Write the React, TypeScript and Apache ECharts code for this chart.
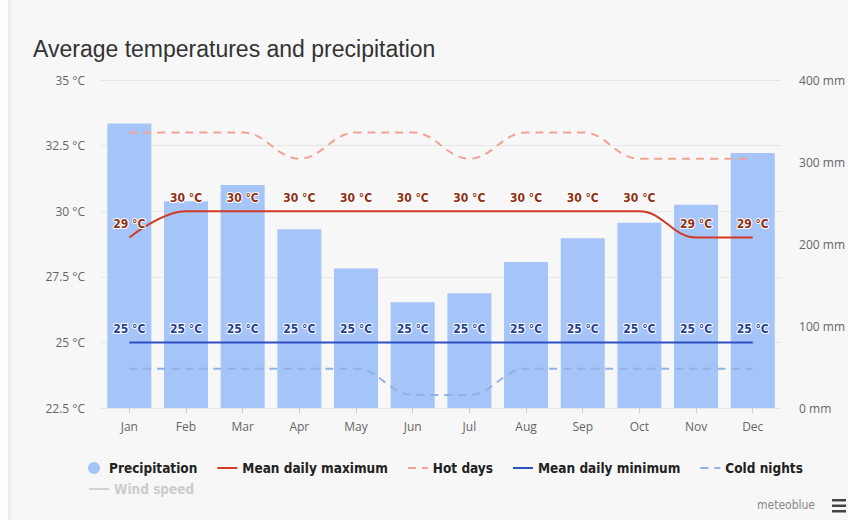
import React, { useEffect, useRef } from "react";
import * as echarts from "echarts";

const months = ["Jan", "Feb", "Mar", "Apr", "May", "Jun", "Jul", "Aug", "Sep", "Oct", "Nov", "Dec"];
const precipitation = [347, 252, 272, 218, 170, 129, 140, 178, 207, 226, 248, 311];
const meanDailyMax = [29, 30, 30, 30, 30, 30, 30, 30, 30, 30, 29, 29];
const hotDays = [33, 33, 33, 32, 33, 33, 32, 33, 33, 32, 32, 32];
const meanDailyMin = [25, 25, 25, 25, 25, 25, 25, 25, 25, 25, 25, 25];
const coldNights = [24, 24, 24, 24, 24, 23, 23, 24, 24, 24, 24, 24];
const windSpeed: number[] = [];

const COND = "'DejaVu Sans Condensed', 'DejaVu Sans', sans-serif";
const AXISFONT = "'Open Sans', sans-serif";

export default function App() {
  const ref = useRef<HTMLDivElement>(null);
  useEffect(() => {
    document.body.style.margin = "0";
    const chart = echarts.init(ref.current!, undefined, { renderer: "svg" });
    const labelMax = {
      show: true,
      position: "top",
      distance: 7,
      formatter: "{c} °C",
      color: "#8f2f12",
      fontFamily: COND,
      fontWeight: "bold",
      fontSize: 12,
      textBorderColor: "#ffffff",
      textBorderWidth: 2,
    };
    const hideDot = { itemStyle: { opacity: 0 } };
    const legendText = { fontFamily: COND, fontWeight: "bold", fontSize: 13.5, color: "#222" };
    chart.setOption({
      animation: false,
      backgroundColor: "#f7f7f7",
      title: {
        text: "Average temperatures and precipitation",
        left: 28,
        top: 32,
        textStyle: { fontFamily: "'Liberation Sans', Arial, sans-serif", fontWeight: "normal", fontSize: 23, color: "#333" },
      },
      grid: { left: 101, right: 66, top: 80, height: 328 },
      legend: [
        {
          left: 83,
          top: 456,
          itemWidth: 20,
          itemHeight: 12,
          itemGap: 19,
          textStyle: legendText,
          data: [
            { name: "Precipitation", icon: "circle" },
            { name: "Mean daily maximum", ...hideDot },
            { name: "Hot days", ...hideDot },
            { name: "Mean daily minimum", ...hideDot },
            { name: "Cold nights", ...hideDot },
          ],
        },
        {
          left: 83,
          top: 477,
          itemWidth: 20,
          itemHeight: 12,
          inactiveColor: "#cccccc",
          selected: { "Wind speed": false },
          textStyle: legendText,
          data: [{ name: "Wind speed", ...hideDot }],
        },
      ],
      xAxis: {
        type: "category",
        data: months,
        boundaryGap: true,
        axisLine: { show: false },
        axisTick: { show: true, alignWithLabel: true, length: 5, lineStyle: { color: "#cccccc" } },
        axisLabel: { color: "#666", fontSize: 12, margin: 12, fontFamily: AXISFONT },
      },
      yAxis: [
        {
          type: "value",
          min: 22.5,
          max: 35,
          interval: 2.5,
          axisLine: { show: false },
          axisTick: { show: false },
          splitLine: { show: true, lineStyle: { color: "#e6e6e6" } },
          axisLabel: { formatter: "{value} °C", color: "#666", fontSize: 12, margin: 16, fontFamily: AXISFONT },
        },
        {
          type: "value",
          min: 0,
          max: 400,
          interval: 100,
          position: "right",
          axisLine: { show: false },
          axisTick: { show: false },
          splitLine: { show: false },
          axisLabel: { formatter: "{value} mm", color: "#666", fontSize: 12, margin: 18, fontFamily: AXISFONT },
        },
      ],
      series: [
        {
          name: "Precipitation",
          type: "bar",
          yAxisIndex: 1,
          data: precipitation,
          barWidth: 44,
          itemStyle: { color: "#a5c4f8" },
          z: 1,
        },
        {
          name: "Mean daily maximum",
          type: "line",
          data: meanDailyMax,
          smooth: 0.4,
          symbol: "circle",
          symbolSize: 0,
          showSymbol: true,
          lineStyle: { color: "#d13a26", width: 2 },
          itemStyle: { color: "#d13a26" },
          label: labelMax,
          z: 5,
        },
        {
          name: "Hot days",
          type: "line",
          data: hotDays,
          smooth: 0.4,
          symbol: "none",
          lineStyle: { color: "#f2a291", width: 2, type: [8, 6] },
          itemStyle: { color: "#f2a291" },
          z: 4,
        },
        {
          name: "Mean daily minimum",
          type: "line",
          data: meanDailyMin,
          smooth: 0.4,
          symbol: "circle",
          symbolSize: 0,
          showSymbol: true,
          lineStyle: { color: "#2f4fc4", width: 2 },
          itemStyle: { color: "#2f4fc4" },
          label: { ...labelMax, color: "#23408f" },
          z: 5,
        },
        {
          name: "Cold nights",
          type: "line",
          data: coldNights,
          smooth: 0.4,
          symbol: "none",
          lineStyle: { color: "#8fb1e3", width: 2, type: [8, 6] },
          itemStyle: { color: "#8fb1e3" },
          z: 4,
        },
        {
          name: "Wind speed",
          type: "line",
          data: windSpeed,
          symbol: "none",
          lineStyle: { color: "#999999", width: 2 },
          itemStyle: { color: "#999999" },
        },
      ],
      graphic: [
        { type: "rect", left: 0, top: 0, shape: { width: 8, height: 520 }, style: { fill: "#fdfdfd" }, silent: true },
        { type: "rect", left: 8, top: 0, shape: { width: 3, height: 520 }, style: { fill: "#ececec" }, silent: true },
        {
          type: "text",
          right: 33,
          top: 499,
          style: { text: "meteoblue", fill: "#888", font: `12px ${COND}` },
          silent: true,
        },
        { type: "rect", left: 832, top: 499, shape: { width: 14, height: 2.5 }, style: { fill: "#444" }, silent: true },
        { type: "rect", left: 832, top: 504.5, shape: { width: 14, height: 2.5 }, style: { fill: "#444" }, silent: true },
        { type: "rect", left: 832, top: 510, shape: { width: 14, height: 2.5 }, style: { fill: "#444" }, silent: true },
      ],
    });
    return () => chart.dispose();
  }, []);
  return <div ref={ref} style={{ width: 848, height: 520 }} />;
}
